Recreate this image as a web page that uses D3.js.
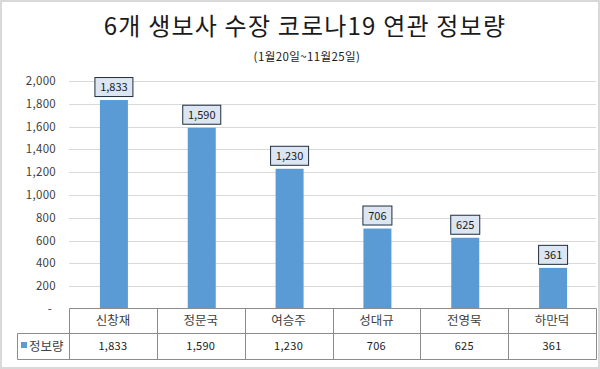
<!DOCTYPE html>
<html>
<head>
<meta charset="utf-8">
<script src="https://cdn.jsdelivr.net/npm/d3@7"></script>
<style>
  body { margin: 0; background: #fff; }
  text { font-family: "Noto Sans CJK KR", "Noto Sans", sans-serif; }
</style>
</head>
<body>
<script>
// data
var names = ["신창재", "정문국", "여승주", "성대규", "전영묵", "하만덕"];
var counts = [1833, 1590, 1230, 706, 625, 361];
var yTicks = [0, 200, 400, 600, 800, 1000, 1200, 1400, 1600, 1800, 2000];
var seriesName = "정보량";

var W = 600, H = 369;
var svg = d3.select("body").append("svg").attr("width", W).attr("height", H);

svg.append("rect").attr("x", 1).attr("y", 1).attr("width", W - 2).attr("height", H - 2)
  .attr("fill", "#fff").attr("stroke", "#d9d9d9").attr("stroke-width", 2);

svg.append("text").attr("x", 305).attr("y", 34.5).attr("text-anchor", "middle")
  .attr("font-size", 24).attr("letter-spacing", 1.2).attr("fill", "#1a1a1a")
  .text("6개 생보사 수장 코로나19 연관 정보량");
svg.append("text").attr("x", 307).attr("y", 61).attr("text-anchor", "middle")
  .attr("font-size", 11.5).attr("letter-spacing", 0.4).attr("fill", "#1a1a1a").text("(1월20일~11월25일)");

var plotL = 69, plotR = 596, plotT = 81, plotB = 309;
var x = d3.scaleBand().domain(names).range([plotL, plotR]).paddingInner(0).paddingOuter(0);
var y = d3.scaleLinear().domain([0, 2000]).range([plotB, plotT]);

// gridlines
svg.append("g").selectAll("line").data(yTicks.filter(function(d){ return d > 0; })).join("line")
  .attr("x1", plotL).attr("x2", plotR)
  .attr("y1", function(d){ return Math.round(y(d)) + 0.5; })
  .attr("y2", function(d){ return Math.round(y(d)) + 0.5; })
  .attr("stroke", "#d9d9d9").attr("stroke-width", 1);

// y labels
var fmt = d3.format(",");
svg.append("g").selectAll("text").data(yTicks).join("text")
  .attr("x", function(d){ return d === 0 ? 52 : 56; })
  .attr("y", function(d){ return y(d) + 4; })
  .attr("text-anchor", "end").attr("font-size", 11.5).attr("letter-spacing", 0.3).attr("fill", "#404040")
  .text(function(d){ return d === 0 ? "-" : fmt(d); });

// bars
var bw = 28;
svg.append("g").selectAll("rect").data(counts).join("rect")
  .attr("x", function(d, i){ return x(names[i]) + x.bandwidth() / 2 - bw / 2 + 1; })
  .attr("y", function(d){ return y(d); })
  .attr("width", bw)
  .attr("height", function(d){ return y(0) - y(d); })
  .attr("fill", "#5b9bd5");

// data labels
var lab = svg.append("g").selectAll("g").data(counts).join("g")
  .attr("transform", function(d, i){
    return "translate(" + (x(names[i]) + x.bandwidth() / 2 + 1) + "," + (y(d) - 13) + ")";
  });
lab.append("rect")
  .attr("x", function(d){ return d >= 1000 ? -19 : -14.5; })
  .attr("y", -9.5)
  .attr("width", function(d){ return d >= 1000 ? 38 : 29; })
  .attr("height", 19)
  .attr("fill", "#dce6f2").attr("stroke", "#1f2d3d").attr("stroke-width", 1);
lab.append("text").attr("text-anchor", "middle").attr("y", 4)
  .attr("font-size", 11).attr("fill", "#1a1a1a").text(function(d){ return fmt(d); });

// data table
var t0 = 308.5, t1 = 333.5, t2 = 359.5, tl = 17.5;
var tg = svg.append("g").attr("stroke", "#8c8c8c").attr("stroke-width", 1);
tg.append("line").attr("x1", plotL + 0.5).attr("x2", plotR + 0.5).attr("y1", t0).attr("y2", t0);
tg.append("line").attr("x1", tl).attr("x2", plotR + 0.5).attr("y1", t1).attr("y2", t1);
tg.append("line").attr("x1", tl).attr("x2", plotR + 0.5).attr("y1", t2).attr("y2", t2);
tg.append("line").attr("x1", tl).attr("x2", tl).attr("y1", t1).attr("y2", t2);
var cols = names.map(function(n){ return Math.round(x(n)) + 0.5; }).concat([plotR + 0.5]);
tg.selectAll("line.c").data(cols).join("line").attr("class", "c")
  .attr("x1", function(d){ return d; }).attr("x2", function(d){ return d; })
  .attr("y1", t0).attr("y2", t2);

svg.append("g").selectAll("text").data(names).join("text")
  .attr("x", function(d){ return x(d) + x.bandwidth() / 2; }).attr("y", 325)
  .attr("text-anchor", "middle").attr("font-size", 12.5).attr("fill", "#404040").text(function(d){ return d; });
svg.append("g").selectAll("text").data(counts).join("text")
  .attr("x", function(d, i){ return x(names[i]) + x.bandwidth() / 2; }).attr("y", 350)
  .attr("text-anchor", "middle").attr("font-size", 11).attr("letter-spacing", 0.3).attr("fill", "#1a1a1a").text(function(d){ return fmt(d); });

svg.append("rect").attr("x", 21).attr("y", 342).attr("width", 6).attr("height", 6).attr("fill", "#5b9bd5");
svg.append("text").attr("x", 29).attr("y", 351).attr("font-size", 12.5).attr("fill", "#404040").text(seriesName);
</script>
</body>
</html>
